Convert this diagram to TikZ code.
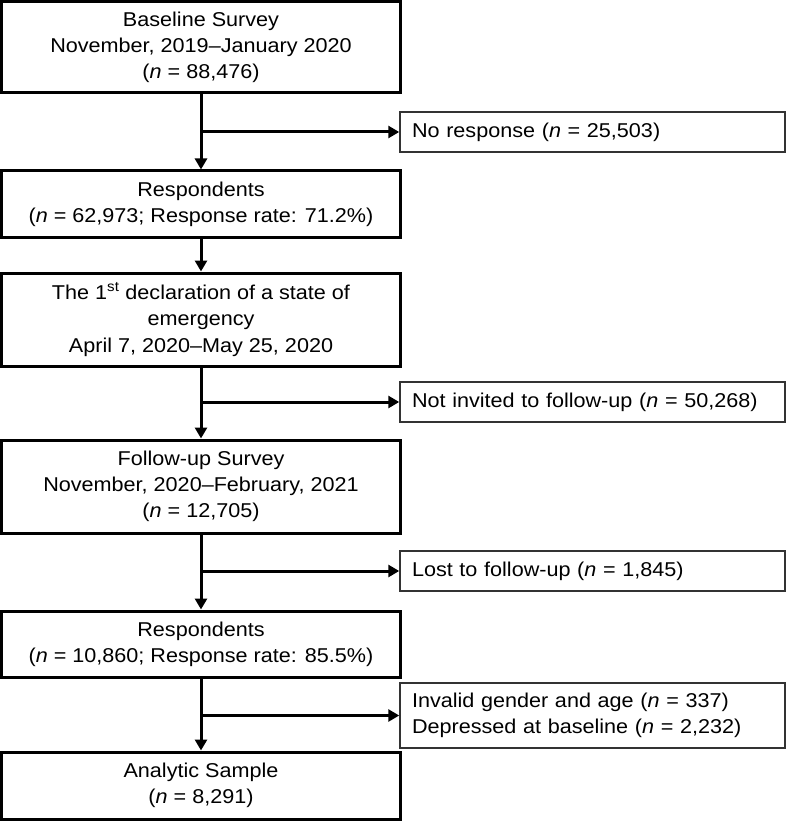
\documentclass[tikz,border=0pt]{standalone}
\usepackage{fontspec}
\setmainfont{Liberation Sans}[FakeStretch=1.08]
\usetikzlibrary{arrows.meta}
\begin{document}
\begin{tikzpicture}[x=1pt,y=-1pt,
  mainbox/.style={draw, line width=3pt, minimum width=399pt, align=center, inner sep=0pt,
    font=\fontsize{20}{26.3}\selectfont},
  sidebox/.style={draw=black!80, line width=1.5pt, text width=361pt, inner xsep=12pt, inner ysep=0pt,
    align=left, font=\fontsize{20}{26.3}\selectfont},
  conn/.style={line width=3pt, -{Triangle[length=11pt,width=12pt]}}]
\useasboundingbox (0,0) rectangle (787,821);
\node[mainbox, minimum height=91pt] (b1) at (201,47.5) {Baseline Survey\\November, 2019–January 2020\\(\textit{n} = 88,476)};
\node[mainbox, minimum height=66pt] (b2) at (201,204) {Respondents\\(\textit{n} = 62,973; Response rate: 71.2\%)};
\node[mainbox, minimum height=93pt] (b3) at (201,319.5) {The 1\textsuperscript{st} declaration of a state of\\emergency\\April 7, 2020–May 25, 2020};
\node[mainbox, minimum height=93pt] (b4) at (201,486.5) {Follow-up Survey\\November, 2020–February, 2021\\(\textit{n} = 12,705)};
\node[mainbox, minimum height=66pt] (b5) at (201,644) {Respondents\\(\textit{n} = 10,860; Response rate: 85.5\%)};
\node[mainbox, minimum height=67pt] (b6) at (201,785.5) {Analytic Sample\\(\textit{n} = 8,291)};
\node[sidebox, minimum height=40pt] (r1) at (592.5,132) {No response (\textit{n} = 25,503)};
\node[sidebox, minimum height=40pt] (r2) at (592.5,402) {Not invited to follow-up (\textit{n} = 50,268)};
\node[sidebox, minimum height=40pt] (r3) at (592.5,571) {Lost to follow-up (\textit{n} = 1,845)};
\node[sidebox, minimum height=65pt] (r4) at (592.5,715.5) {Invalid gender and age (\textit{n} = 337)\\Depressed at baseline (\textit{n} = 2,232)};
\draw[conn] (b1.south) -- (b2.north);
\draw[conn] (b2.south) -- (b3.north);
\draw[conn] (b3.south) -- (b4.north);
\draw[conn] (b4.south) -- (b5.north);
\draw[conn] (b5.south) -- (b6.north);
\draw[conn] (b1.south |- r1.west) -- (r1.west);
\draw[conn] (b3.south |- r2.west) -- (r2.west);
\draw[conn] (b4.south |- r3.west) -- (r3.west);
\draw[conn] (b5.south |- r4.west) -- (r4.west);
\end{tikzpicture}
\end{document}
